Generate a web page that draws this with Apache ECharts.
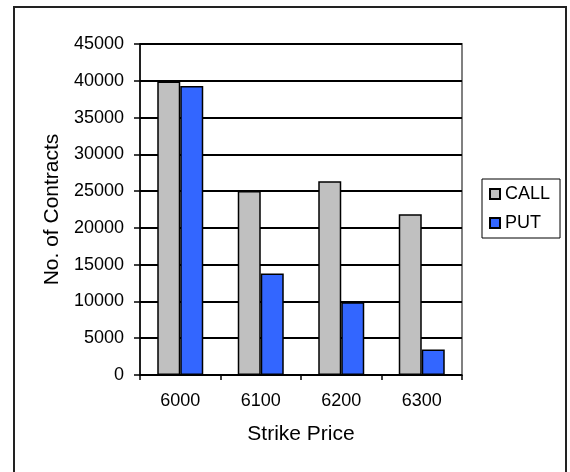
<!DOCTYPE html>
<html>
<head>
<meta charset="utf-8">
<script src="https://cdn.jsdelivr.net/npm/echarts@6/dist/echarts.min.js"></script>
<style>
html,body{margin:0;padding:0;background:#fff;}
#chart{width:570px;height:472px;}
</style>
</head>
<body>
<div id="chart"></div>
<script>
const categories = ['6000', '6100', '6200', '6300'];
const callValues = [39900, 25000, 26350, 21850];
const putValues = [39300, 13800, 9900, 3450];
const yTicks = { min: 0, max: 45000, interval: 5000 };

const chart = echarts.init(document.getElementById('chart'));
const font = 'Liberation Sans, Arial, sans-serif';
chart.setOption({
  animation: false,
  backgroundColor: '#fff',
  graphic: [{
    type: 'rect',
    shape: { x: 14, y: 7, width: 552, height: 480 },
    style: { fill: 'none', stroke: '#222', lineWidth: 2 }
  }],
  grid: {
    left: 140, top: 44, right: 108, bottom: 97,
    show: true, borderColor: '#808080', borderWidth: 2, backgroundColor: '#fff'
  },
  legend: {
    orient: 'vertical',
    left: 482, top: 179,
    itemWidth: 10, itemHeight: 10, itemGap: 11,
    borderColor: '#000', borderWidth: 1,
    padding: [6, 10, 6, 7],
    icon: 'rect',
    itemStyle: { borderWidth: 2, borderColor: '#000' },
    textStyle: { fontFamily: font, fontSize: 18, color: '#000', padding: [0, 0, 0, 0] },
    data: ['CALL', 'PUT']
  },
  xAxis: {
    type: 'category',
    data: categories,
    name: 'Strike Price',
    nameLocation: 'middle',
    nameGap: 49,
    nameTextStyle: { fontFamily: font, fontSize: 21, color: '#000' },
    axisLine: { lineStyle: { color: '#000', width: 1.5 } },
    axisTick: { show: true, length: 5, lineStyle: { color: '#000', width: 1.5 } },
    axisLabel: { fontFamily: font, fontSize: 18, color: '#000', margin: 17 }
  },
  yAxis: {
    type: 'value',
    min: yTicks.min, max: yTicks.max, interval: yTicks.interval,
    name: 'No. of Contracts',
    nameLocation: 'middle',
    nameGap: 74,
    nameTextStyle: { fontFamily: font, fontSize: 21, color: '#000' },
    axisLine: { show: true, lineStyle: { color: '#000', width: 1.5 } },
    axisTick: { show: true, length: 6, lineStyle: { color: '#000', width: 1.5 } },
    axisLabel: { fontFamily: font, fontSize: 18, color: '#000', margin: 16, formatter: v => String(v) },
    splitLine: { show: true, lineStyle: { color: '#000', width: 2 } }
  },
  series: [
    {
      name: 'CALL', type: 'bar', data: callValues,
      barWidth: 23, barGap: '0%',
      itemStyle: { color: '#C0C0C0', borderColor: '#000', borderWidth: 1.5 }
    },
    {
      name: 'PUT', type: 'bar', data: putValues,
      barWidth: 23,
      itemStyle: { color: '#3366FF', borderColor: '#000', borderWidth: 1.5 }
    }
  ]
});
</script>
</body>
</html>
